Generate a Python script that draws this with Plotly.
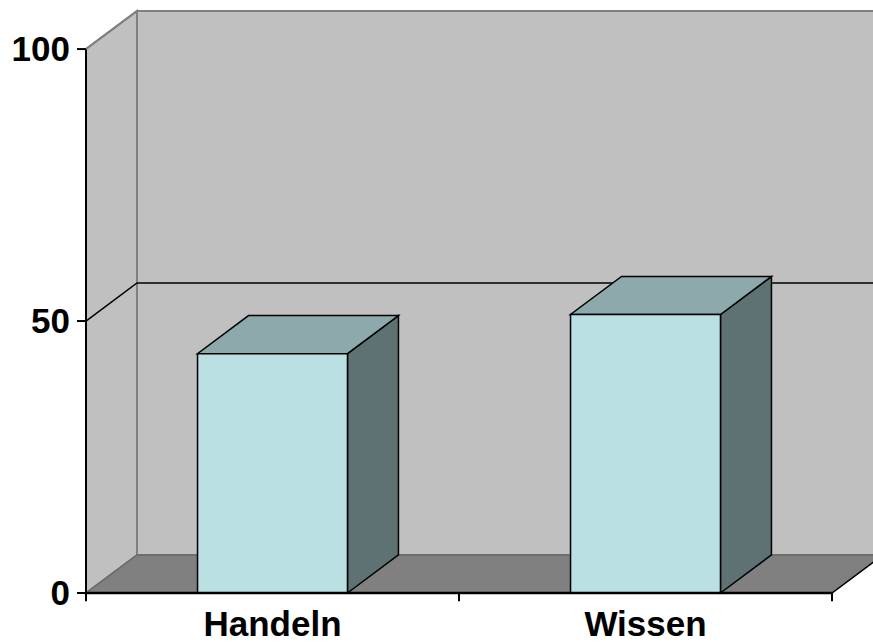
import plotly.graph_objects as go

# Chart data
categories = ["Handeln", "Wissen"]
values = [44, 51.2]
y_ticks = [0, 50, 100]
y_tick_labels = ["0", "50", "100"]
y_grid = [50]

# 3D look: depth offset in axis units, bar width as fraction of a category slot
DX = 0.1367
DY = 7.0
BAR_W = 0.402
X_MAX = 2.11
Y_MAX = 100

FRONT = "#BAE0E3"
TOP = "#8EA9AB"
SIDE = "#5E7173"
WALL = "#C0C0C0"
FLOOR = "#808080"
EDGE = "#808080"

FONT = "Liberation Sans, Arial, sans-serif"


def poly(pts):
    d = "M " + " L ".join(f"{x},{y}" for x, y in pts) + " Z"
    return d


shapes = []

# back wall
shapes.append(dict(type="path", path=poly([(DX, DY), (X_MAX + 1, DY), (X_MAX + 1, Y_MAX + DY), (DX, Y_MAX + DY)]),
                   fillcolor=WALL, line=dict(color=EDGE, width=2), layer="below"))
# left side wall
shapes.append(dict(type="path", path=poly([(0, 0), (DX, DY), (DX, Y_MAX + DY), (0, Y_MAX)]),
                   fillcolor=WALL, line=dict(color=EDGE, width=2), layer="below"))
# floor
n = len(categories)
shapes.append(dict(type="path", path=poly([(0, 0), (n, 0), (n + DX, DY), (DX, DY)]),
                   fillcolor=FLOOR, line=dict(color="#6A6A6A", width=1.5), layer="below"))
# grid lines on side wall and back wall
for g in y_grid:
    shapes.append(dict(type="path", path=f"M 0,{g} L {DX},{g + DY} L {X_MAX + 1},{g + DY}",
                       line=dict(color="black", width=1.5), layer="below"))

# bars: front face, top and right side
for i, v in enumerate(values):
    c = i + 0.5
    x0, x1 = c - BAR_W / 2, c + BAR_W / 2
    shapes.append(dict(type="path", path=poly([(x1, 0), (x1 + DX, DY), (x1 + DX, v + DY), (x1, v)]),
                       fillcolor=SIDE, line=dict(color="black", width=1.5)))
    shapes.append(dict(type="path", path=poly([(x0, v), (x1, v), (x1 + DX, v + DY), (x0 + DX, v + DY)]),
                       fillcolor=TOP, line=dict(color="black", width=1.5)))
    shapes.append(dict(type="path", path=poly([(x0, 0), (x1, 0), (x1, v), (x0, v)]),
                       fillcolor=FRONT, line=dict(color="black", width=1.5)))

# front axes
shapes.append(dict(type="line", x0=0, y0=0, x1=0, y1=Y_MAX, line=dict(color="black", width=2)))
shapes.append(dict(type="line", x0=0, y0=Y_MAX, x1=DX, y1=Y_MAX + DY, line=dict(color=EDGE, width=2)))
shapes.append(dict(type="line", x0=0, y0=0, x1=n, y1=0, line=dict(color="black", width=2.5)))
shapes.append(dict(type="line", x0=n, y0=0, x1=n + DX, y1=DY, line=dict(color="black", width=1.5)))

# tick marks
for t in y_ticks:
    shapes.append(dict(type="line", x0=-9 / 373, y0=t, x1=0, y1=t, line=dict(color="black", width=2)))
for k in range(n + 1):
    shapes.append(dict(type="line", x0=k, y0=0, x1=k, y1=-1.5, line=dict(color="black", width=2)))

fig = go.Figure()
fig.add_trace(go.Scatter(x=[0.5, 1.5], y=[None, None], mode="markers", showlegend=False, hoverinfo="skip"))

fig.update_layout(
    width=873,
    height=643,
    margin=dict(l=76, r=0, t=4, b=40, autoexpand=False),
    paper_bgcolor="white",
    plot_bgcolor="white",
    shapes=shapes,
    showlegend=False,
    xaxis=dict(
        range=[-10 / 373, (873 - 86) / 373],
        tickmode="array",
        tickvals=[i + 0.5 for i in range(n)],
        ticktext=[f"<b>{c}</b>" for c in categories],
        ticks="",
        showgrid=False,
        zeroline=False,
        showline=False,
        automargin=False,
        ticklabelstandoff=-3,
        tickfont=dict(family=FONT, size=35, color="black"),
        fixedrange=True,
    ),
    yaxis=dict(
        range=[-10 / 5.4393, 107 + 7 / 5.4393],
        tickmode="array",
        tickvals=y_ticks,
        ticktext=[f"<b>{t}</b>" for t in y_tick_labels],
        ticks="",
        showgrid=False,
        zeroline=False,
        showline=False,
        automargin=False,
        ticklabelstandoff=5,
        tickfont=dict(family=FONT, size=35, color="black"),
        fixedrange=True,
    ),
)

fig.write_html("out.html")
